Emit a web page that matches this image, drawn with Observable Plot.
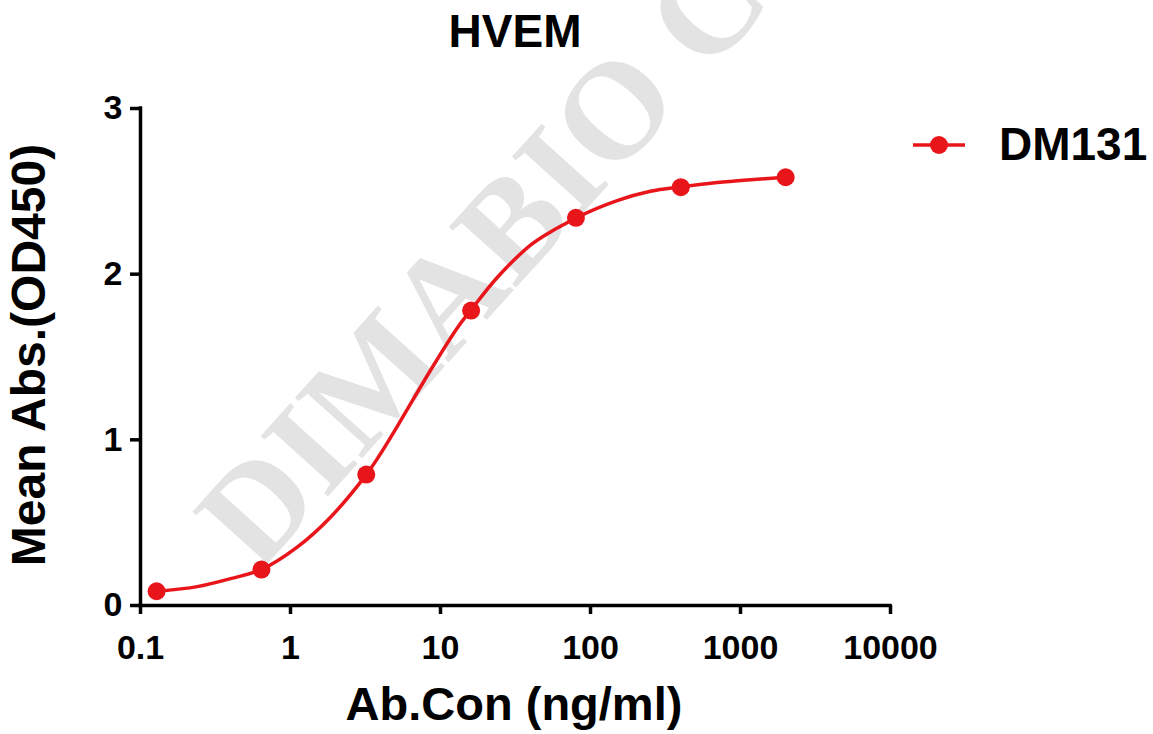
<!DOCTYPE html>
<html><head><meta charset="utf-8">
<script src="https://cdn.jsdelivr.net/npm/d3@7"></script>
<script src="https://cdn.jsdelivr.net/npm/@observablehq/plot@0.6"></script>
<style>
body{margin:0;background:#fff}
#wrap{position:relative;width:1153px;height:734px;overflow:hidden}
#bg{position:absolute;left:0;top:0}
#chart{position:absolute;left:0;top:0}
#bg text{font-family:"Liberation Sans",Arial,sans-serif;font-weight:bold}
#chart g[aria-label$="tick"], #chart g[aria-label$="tick"] path{stroke-width:3.5px;stroke:#000}
</style>
</head><body>
<div id="wrap">
<svg id="bg" width="1153" height="734">
  <text id="wm" transform="translate(258,574) rotate(-48)" style="font-family:'Liberation Serif','Times New Roman',serif;font-weight:bold;font-size:138px" fill="#e3e3e3">DIMABIO CON</text>
  <text id="title" x="515" y="47" text-anchor="middle" font-size="46"></text>
  <text id="xlab" x="514" y="720" text-anchor="middle" font-size="47"></text>
  <text id="ylab" transform="translate(45,355) rotate(-90)" text-anchor="middle" font-size="48"></text>
  <line x1="913" x2="965" y1="145" y2="145" stroke="#e8151b" stroke-width="3.5"></line>
  <circle cx="939" cy="145" r="9" fill="#e8151b"></circle>
  <text id="leg" x="999" y="160" font-size="46"></text>
</svg>
<div id="chart"></div>
</div>
<script>
const titleText = "HVEM";
const xLabel = "Ab.Con (ng/ml)";
const yLabel = "Mean Abs.(OD450)";
const seriesName = "DM131";
const xTicks = [0.1, 1, 10, 100, 1000, 10000];
const yTicks = [0, 1, 2, 3];
// measured points
const conc = [0.128, 0.64, 3.2, 16, 80, 400, 2000];
const od = [0.086, 0.217, 0.79, 1.78, 2.34, 2.525, 2.585];
// fitted curve
const fitConc = [0.128, 0.239, 0.398, 0.64, 1.108, 1.848, 3.2, 3.98, 5.14, 8.58, 12.9, 16, 23.9, 39.8, 54.1, 66.4, 80, 150.6, 251, 400, 700, 1166, 2000];
const fitOd = [0.086, 0.114, 0.162, 0.217, 0.352, 0.533, 0.79, 0.916, 1.08, 1.42, 1.674, 1.785, 1.98, 2.175, 2.255, 2.30, 2.34, 2.444, 2.50, 2.527, 2.553, 2.57, 2.585];

const red = "#e8151b";
const points = conc.map((c, i) => ({x: c, y: od[i]}));
const fit = fitConc.map((c, i) => ({x: c, y: fitOd[i]}));

document.getElementById("title").textContent = titleText;
document.getElementById("xlab").textContent = xLabel;
document.getElementById("ylab").textContent = yLabel;
document.getElementById("leg").textContent = seriesName;

const chart = Plot.plot({
  width: 1153, height: 734,
  marginLeft: 140, marginRight: 263, marginTop: 108, marginBottom: 129,
  style: {background: "transparent", fontFamily: "'Liberation Sans', Arial, sans-serif", fontWeight: "bold", fontSize: "34px", color: "#000"},
  x: {type: "log", domain: [0.1, 10000], label: null},
  y: {domain: [0, 3], label: null},
  marks: [
    Plot.ruleY([0], {stroke: "#000", strokeWidth: 3.5, strokeLinecap: "square"}),
    Plot.ruleX([0.1], {stroke: "#000", strokeWidth: 3.5, strokeLinecap: "square"}),
    Plot.axisX({ticks: xTicks, tickFormat: d => String(d), tickSize: 9, tickPadding: 20, strokeWidth: 3.5, label: null, fontSize: 34}),
    Plot.axisY({ticks: yTicks, tickFormat: d => String(d), tickSize: 10, tickPadding: 8, strokeWidth: 3.5, label: null, fontSize: 34}),
    Plot.line(fit, {x: "x", y: "y", stroke: red, strokeWidth: 3.5, curve: "catmull-rom"}),
    Plot.dot(points, {x: "x", y: "y", r: 9, fill: red, stroke: "none"})
  ]
});
document.getElementById("chart").appendChild(chart);
</script>
</body></html>
